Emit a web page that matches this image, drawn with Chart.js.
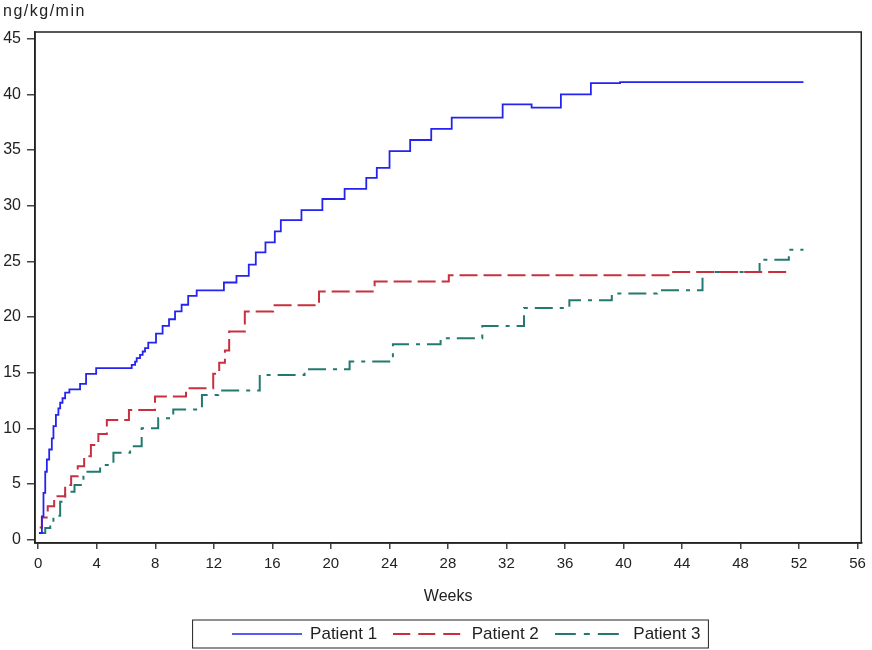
<!DOCTYPE html>
<html>
<head>
<meta charset="utf-8">
<script src="https://cdn.jsdelivr.net/npm/chart.js@4.4.1/dist/chart.umd.min.js"></script>
<style>
  html, body { margin: 0; padding: 0; background: #fff; }
  #wrap { width: 872px; height: 650px; position: relative; }
</style>
</head>
<body>
<div id="wrap"><canvas id="doseChart"></canvas></div>
<script>
"use strict";
// dose steps (week of change, new dose)
const p1Weeks = [0.05, 0.25, 0.36, 0.48, 0.59, 0.75, 0.93, 1.04, 1.21, 1.38, 1.5, 1.66, 1.84, 2.13, 2.86, 3.27, 3.96,
  6.39, 6.62, 6.73, 6.96, 7.14, 7.3, 7.52, 8.05, 8.5, 8.94, 9.35, 9.8, 10.25, 10.83, 12.69, 13.55, 14.39, 14.87,
  15.53, 16.17, 16.58, 17.99, 19.42, 20.94, 22.42, 23.14, 24.01, 25.42, 26.86, 28.26, 31.74, 33.72, 35.72, 37.77, 39.77, 52.3];
const p1Dose = [0.6, 2.1, 4.2, 6.1, 7.2, 8.1, 9.1, 10.2, 11.2, 11.8, 12.3, 12.7, 13.2, 13.5, 14.0, 14.9, 15.4,
  15.7, 16.0, 16.3, 16.6, 16.9, 17.2, 17.7, 18.5, 19.2, 19.8, 20.5, 21.1, 21.9, 22.4, 23.1, 23.7, 24.7, 25.8,
  26.7, 27.7, 28.7, 29.6, 30.6, 31.5, 32.5, 33.4, 34.9, 35.9, 36.9, 37.9, 39.1, 38.8, 40.0, 41.0, 41.1, 41.1];

const p2Weeks = [0.1, 0.25, 0.65, 1.09, 1.84, 2.25, 2.7, 3.14, 3.6, 4.11, 4.69, 6.2, 7.98, 10.1, 11.96, 12.37, 12.76,
  13.05, 14.12, 16.05, 19.19, 22.99, 28.06, 43.3, 51.2];
const p2Dose = [1.1, 2.0, 3.0, 3.9, 4.9, 5.7, 6.6, 7.5, 8.5, 9.5, 10.75, 11.65, 12.85, 13.6, 14.9, 15.9, 17.0,
  18.7, 20.5, 21.05, 22.3, 23.2, 23.75, 24.05, 24.05];

const p3Weeks = [0.1, 0.48, 0.82, 1.04, 1.5, 1.84, 2.48, 3.09, 4.23, 5.14, 6.28, 7.07, 8.2, 9.23, 11.19, 12.3,
  15.14, 18.2, 21.28, 24.24, 27.5, 30.35, 33.2, 36.3, 39.2, 42.3, 45.4, 49.3, 51.3, 52.3];
const p3Dose = [0.6, 1.05, 1.4, 2.15, 3.4, 4.3, 4.9, 6.1, 6.7, 7.8, 8.4, 10.0, 10.9, 11.7, 13.0, 13.4,
  14.8, 15.3, 16.0, 17.55, 18.1, 19.2, 20.8, 21.5, 22.1, 22.4, 24.05, 25.15, 26.05, 26.05];

const xTicks = [0, 4, 8, 12, 16, 20, 24, 28, 32, 36, 40, 44, 48, 52, 56];
const yTicks = [0, 5, 10, 15, 20, 25, 30, 35, 40, 45];

function toPoints(weeks, dose) {
  return weeks.map((w, i) => ({ x: w, y: dose[i] }));
}

// small canvas with the dashed line, used as the legend symbol
function lineSample(color, dash, width) {
  const c = document.createElement('canvas');
  c.width = 70;
  c.height = 6;
  const g = c.getContext('2d');
  g.strokeStyle = color;
  g.lineWidth = width;
  g.setLineDash(dash);
  g.beginPath();
  g.moveTo(0, 3);
  g.lineTo(70, 3);
  g.stroke();
  return c;
}

const sans = "'Liberation Sans', Arial, sans-serif";
const inkColor = '#222';

// frame round the plot, unit label at the top and a box round the legend
const framePlugin = {
  id: 'frame',
  afterLayout(chart) {
    // legend sits a little right of the canvas centre in the original
    chart.legend.left += 35;
    chart.legend.right += 35;
    chart.legend.top += 2.5;
    chart.legend.bottom += 2.5;
  },
  afterDraw(chart) {
    const ctx = chart.ctx;
    const a = chart.chartArea;
    ctx.save();
    ctx.strokeStyle = inkColor;
    ctx.lineWidth = 1.5;
    ctx.strokeRect(a.left, a.top, a.right - a.left, a.bottom - a.top);

    ctx.fillStyle = inkColor;
    ctx.font = "16px " + sans;
    ctx.letterSpacing = '1.5px';
    ctx.textBaseline = 'middle';
    ctx.fillText('ng/kg/min', 3, 12);
    ctx.letterSpacing = '0px';

    const boxes = chart.legend.legendHitBoxes;
    if (boxes && boxes.length) {
      const first = boxes[0];
      const last = boxes[boxes.length - 1];
      const left = first.left - 39;
      const right = last.left + last.width + 8;
      ctx.lineWidth = 1;
      ctx.strokeRect(left, first.top - 5.5, right - left, first.height + 11);
    }
    ctx.restore();
  }
};

let doseChart = new Chart(document.getElementById('doseChart').getContext('2d'), {
  type: 'line',
  data: {
    datasets: [{
      label: 'Patient 1',
      data: toPoints(p1Weeks, p1Dose),
      borderColor: '#2424ee',
      borderWidth: 1.8,
      stepped: true,
      pointRadius: 0,
      pointStyle: lineSample('#2424ee', [], 1.5)
    }, {
      label: 'Patient 2',
      data: toPoints(p2Weeks, p2Dose),
      borderColor: '#c8303f',
      borderWidth: 2,
      borderDash: [18, 6],
      stepped: true,
      pointRadius: 0,
      pointStyle: lineSample('#c8303f', [17, 8], 2)
    }, {
      label: 'Patient 3',
      data: toPoints(p3Weeks, p3Dose),
      borderColor: '#23796f',
      borderWidth: 2,
      borderDash: [18, 7, 4, 7],
      stepped: true,
      pointRadius: 0,
      pointStyle: lineSample('#23796f', [21, 8, 6, 8, 21, 50], 2)
    }]
  },
  options: {
    responsive: true,
    maintainAspectRatio: false,
    animation: false,
    layout: { padding: { left: 0, right: 10, top: 32, bottom: 0 } },
    scales: {
      x: {
        type: 'linear',
        min: -0.22,
        max: 56.25,
        afterBuildTicks: axis => { axis.ticks = xTicks.map(v => ({ value: v })); },
        afterFit: scale => { scale.height = 64; },
        grid: { drawOnChartArea: false, tickLength: 6, color: '#444', lineWidth: 1.5 },
        border: { color: inkColor, width: 1.5 },
        ticks: { color: inkColor, padding: 6, maxRotation: 0, font: { family: sans, size: 15 } },
        title: {
          display: true,
          text: 'Weeks',
          color: inkColor,
          font: { family: sans, size: 16 },
          padding: { top: 4, bottom: 1 }
        }
      },
      y: {
        min: -0.3,
        max: 45.6,
        afterBuildTicks: axis => { axis.ticks = yTicks.map(v => ({ value: v })); },
        afterFit: scale => { scale.width = 35; },
        grid: { drawOnChartArea: false, tickLength: 8, color: '#444', lineWidth: 1.5 },
        border: { color: inkColor, width: 1.5 },
        ticks: { color: inkColor, padding: 6, font: { family: sans, size: 16 } }
      }
    },
    plugins: {
      tooltip: { enabled: false },
      legend: {
        position: 'bottom',
        labels: {
          usePointStyle: true,
          pointStyleWidth: 70,
          padding: 16,
          color: inkColor,
          font: { family: sans, size: 17 }
        }
      }
    }
  },
  plugins: [framePlugin]
});
</script>
</body>
</html>
